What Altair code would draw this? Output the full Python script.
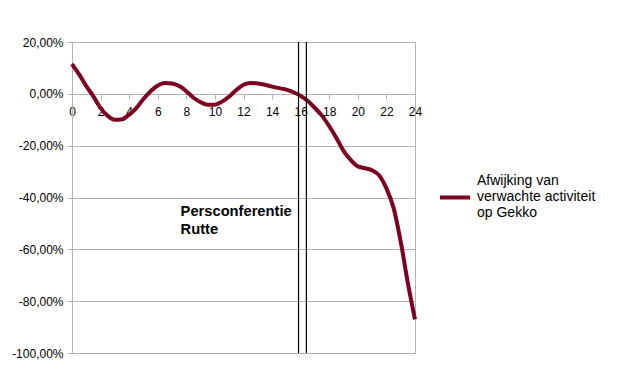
import altair as alt
import pandas as pd

hours = [0, 0.5, 1, 1.5, 2, 2.5, 3, 3.5, 4, 4.5, 5, 5.5, 6, 6.5, 7, 7.5, 8, 8.5, 9, 9.5,
         10, 10.5, 11, 11.5, 12, 12.5, 13, 13.5, 14, 14.5, 15, 15.5, 16, 16.5, 17, 17.5,
         18, 18.5, 19, 19.5, 20, 20.5, 21, 21.5, 22, 22.5, 23, 23.5, 24]
deviation = [11.5, 7.5, 3, -1, -5.5, -8.5, -10, -9.8, -8, -5.5, -2, 1, 3.2, 4.2, 4, 3, 1, -1.5, -3.2, -4.2,
             -4.2, -3, -1, 1.5, 3.5, 4.2, 4, 3.5, 2.8, 2.2, 1.6, 0.6, -0.8, -2.8, -5.5, -8.5,
             -12.5, -17, -22, -25.5, -28, -28.7, -29.5, -31.5, -36.5, -44, -57, -73, -87]
series_name = "Afwijking van|verwachte activiteit|op Gekko"
x_ticks = [0, 2, 4, 6, 8, 10, 12, 14, 16, 18, 20, 22, 24]
y_ticks = [-100, -80, -60, -40, -20, 0, 20]

press_lines = [15.85, 16.4]
note_x = [7.6]
note_y = [-45.5]
note_text = ["Persconferentie\nRutte"]

df = pd.DataFrame({"uur": hours, "afwijking": deviation, "reeks": series_name})
df_rules = pd.DataFrame({"x": press_lines})
df_note = pd.DataFrame({"x": note_x, "y": note_y, "t": note_text})

FONT = "Liberation Sans"
GRID = "#b3b3b3"

xscale = alt.Scale(domain=[0, 24], nice=False, zero=False)
yscale = alt.Scale(domain=[-100, 20], nice=False)

xaxis = alt.Axis(values=x_ticks, title=None, grid=False, offset=-259,
                 domainColor=GRID, tickColor=GRID, tickSize=5, labelFontSize=12,
                 labelFont=FONT, labelColor="#000000", labelPadding=7,
                 labelFlush=False, labelOverlap=False, labelBound=False)
yaxis = alt.Axis(values=y_ticks, title=None, grid=True,
                 gridColor=GRID, domainColor=GRID, tickColor=GRID, tickSize=5,
                 labelFontSize=12, labelFont=FONT, labelColor="#000000", labelPadding=4,
                 labelOverlap=False,
                 labelExpr="replace(replace(format(datum.value/100, '.2%'), '.', ','), '\u2212', '-')")

line = alt.Chart(df).mark_line(strokeWidth=4, interpolate="monotone").encode(
    x=alt.X("uur:Q", scale=xscale, axis=xaxis),
    y=alt.Y("afwijking:Q", scale=yscale, axis=yaxis),
    color=alt.Color("reeks:N", scale=alt.Scale(range=["#7e0021"]),
                    legend=alt.Legend(title=None, orient="none", legendX=366, legendY=122,
                                      symbolType="M-1,1.1H1", symbolSize=900, symbolStrokeWidth=4,
                                      labelFont=FONT, labelFontSize=14, labelColor="#000000",
                                      labelLimit=300, labelOffset=5,
                                      labelExpr="split(datum.label, '|')")),
)

rules = alt.Chart(df_rules).mark_rule(color="#000000", strokeWidth=1.2).encode(
    x=alt.X("x:Q", scale=xscale, axis=xaxis)
)

note = alt.Chart(df_note).mark_text(align="left", baseline="middle", font=FONT, fontSize=14.7,
                                    fontWeight="bold", lineBreak="\n", lineHeight=18,
                                    color="#000000").encode(
    x=alt.X("x:Q", scale=xscale, axis=xaxis),
    y=alt.Y("y:Q", scale=yscale, axis=yaxis),
    text="t:N",
)

chart = alt.layer(line, rules, note).properties(
    width=343, height=311,
    autosize=alt.AutoSizeParams(type="none"),
    padding={"left": 72, "top": 42, "right": 204, "bottom": 26},
    background="#ffffff",
).configure_view(stroke=GRID, strokeWidth=1).configure_axis(labelOverlap=False)

chart.save("out.html", embed_options={"renderer": "svg", "actions": False})
